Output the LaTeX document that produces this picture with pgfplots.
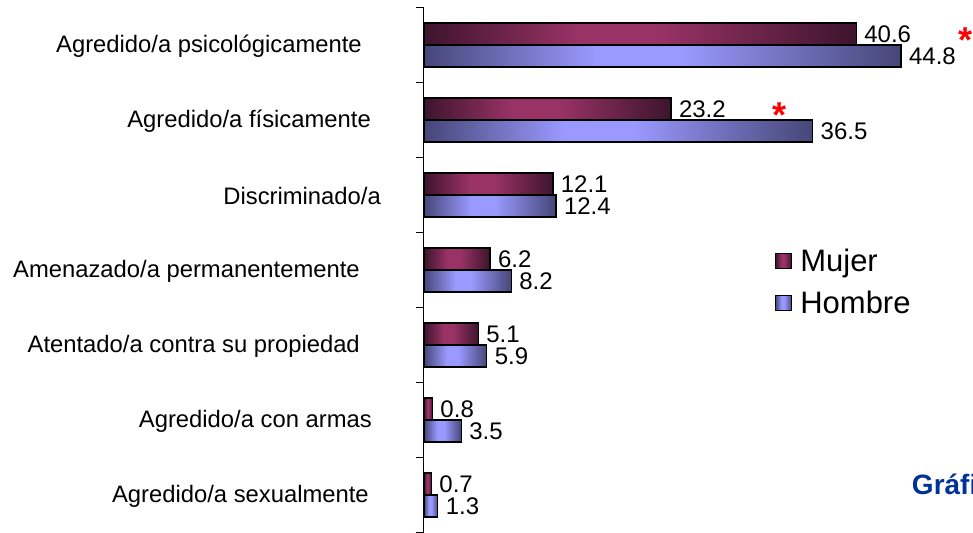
\documentclass[border=0pt]{standalone}
\usepackage{fontspec}
\setmainfont{Liberation Sans}
\usepackage{pgfplots}
\pgfplotsset{compat=1.18}

\definecolor{mujerDark}{RGB}{62,20,45}
\definecolor{mujerMid}{RGB}{153,51,102}
\definecolor{hombreDark}{RGB}{70,70,120}
\definecolor{hombreMid}{RGB}{153,153,255}
\definecolor{grafBlue}{RGB}{0,51,153}

% gradient along the bar: dark ends, light plateau a bit left of centre
\pgfdeclarehorizontalshading{mujershade}{100bp}{color(0bp)=(mujerDark); color(25bp)=(mujerDark);
  color(43bp)=(mujerMid); color(52bp)=(mujerMid); color(75bp)=(mujerDark); color(100bp)=(mujerDark)}
\pgfdeclarehorizontalshading{hombreshade}{100bp}{color(0bp)=(hombreDark); color(25bp)=(hombreDark);
  color(43bp)=(hombreMid); color(52bp)=(hombreMid); color(75bp)=(hombreDark); color(100bp)=(hombreDark)}

\newcommand{\pad}[1]{\rule{#1}{0pt}}

% one \addplot per bar, so that each bar gets its own gradient
\pgfplotsset{
  mujer/.style={draw=black, line width=1.3pt, shading=mujershade, bar shift=11pt},
  hombre/.style={draw=black, line width=1.3pt, shading=hombreshade, bar shift=-11pt},
}

\begin{document}
\begin{tikzpicture}
\useasboundingbox (-424pt,0.5pt) rectangle (549pt,532.5pt);
\begin{axis}[
  at={(0pt,0pt)}, anchor=south west,
  scale only axis, width=549pt, height=525pt,
  xbar, bar width=22pt,
  xmin=0, xmax=51.55, ymin=-0.5, ymax=6.5,
  axis x line=none, axis y line=left,
  y axis line style={-, line width=1pt, black},
  ytick={0,...,6},
  yticklabels={
    {Agredido/a sexualmente\pad{12pt}},
    {Agredido/a con armas\pad{9pt}},
    {Atentado/a contra su propiedad\pad{21pt}},
    {Amenazado/a permanentemente\pad{21pt}},
    {Discriminado/a},
    {Agredido/a físicamente\pad{10pt}},
    {Agredido/a psicológicamente\pad{19pt}}},
  minor ytick={-0.5,0.5,...,6.5},
  major tick length=0pt, minor tick length=8pt, tick align=outside,
  minor tick style={line width=1pt, black},
  yticklabel style={font=\fontsize{23.8}{28}\selectfont, inner sep=0pt, anchor=east, xshift=-43pt, yshift=-1pt},
  nodes near coords,
  every node near coord/.append style={font=\fontsize{24}{28}\selectfont, black, xshift=4pt},
  /pgf/number format/fixed,
  /pgf/number format/fixed zerofill,
  /pgf/number format/precision=1,
  /pgf/number format/assume math mode=true,
  clip=false,
  legend style={at={(axis description cs:0.639,0.542)}, anchor=north west,
    draw=none, fill=none, inner sep=0pt, row sep=16pt, column sep=7pt,
    font=\fontsize{31}{36}\selectfont, nodes={inner sep=1pt}},
  legend cell align=left,
  legend image code/.code={\draw[#1] (0pt,-7.5pt) rectangle (16pt,7.5pt);},
]
% Mujer
\addplot[mujer] coordinates {(40.6,6)};
\addlegendentry{Mujer}
\addplot[mujer, forget plot] coordinates {(23.2,5)};
\addplot[mujer, forget plot] coordinates {(12.1,4)};
\addplot[mujer, forget plot] coordinates {(6.2,3)};
\addplot[mujer, forget plot] coordinates {(5.1,2)};
\addplot[mujer, forget plot] coordinates {(0.8,1)};
\addplot[mujer, forget plot] coordinates {(0.7,0)};
% Hombre
\addplot[hombre] coordinates {(44.8,6)};
\addlegendentry{Hombre}
\addplot[hombre, forget plot] coordinates {(36.5,5)};
\addplot[hombre, forget plot] coordinates {(12.4,4)};
\addplot[hombre, forget plot] coordinates {(8.2,3)};
\addplot[hombre, forget plot] coordinates {(5.9,2)};
\addplot[hombre, forget plot] coordinates {(3.5,1)};
\addplot[hombre, forget plot] coordinates {(1.3,0)};
\node[text=red, font=\fontsize{36}{40}\selectfont\bfseries, anchor=base] at (axis cs:50.8,5.9) {*};
\node[text=red, font=\fontsize{36}{40}\selectfont\bfseries, anchor=base] at (axis cs:33.4,4.9) {*};
\node[text=grafBlue, font=\fontsize{28}{32}\selectfont\bfseries, anchor=base west, inner sep=0pt] at (axis cs:45.8,0) {Gráfico};
\end{axis}
\end{tikzpicture}
\end{document}
